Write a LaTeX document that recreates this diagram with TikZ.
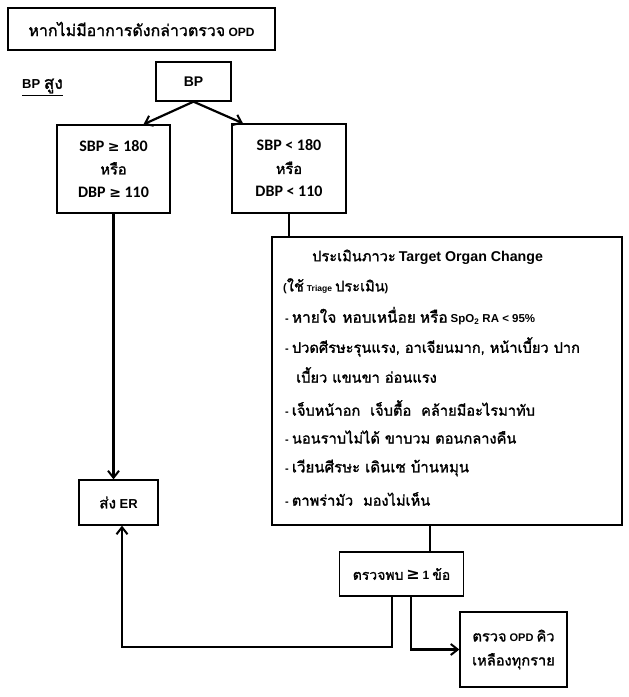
\documentclass[tikz,border=0pt]{standalone}
\usepackage{fontspec}
\usetikzlibrary{arrows.meta}
\setmainfont{Liberation Sans}
\newfontfamily\thaifont[Script=Thai, Scale=1.33, AutoFakeBold=1.5]{Loma}
\newfontfamily\calfont{Carlito}
\newfontfamily\symfont{DejaVu Sans}
\newcommand\tf[1]{{\thaifont #1}}
\newcommand\fs[1]{\fontsize{#1}{#1}\selectfont}
\begin{document}
\begin{tikzpicture}[x=1pt,y=-1pt,
  box/.style={draw, line width=1.3pt, inner sep=0pt, align=center, font=\bfseries\fontsize{11.5}{14}\selectfont},
  sbpbox/.style={box, font=\calfont\bfseries\fontsize{16}{23}\selectfont},
  txt/.style={anchor=west, inner sep=0pt, font=\bfseries\fontsize{11}{13}\selectfont},
  conn/.style={line width=2.2pt},
  arr/.style={conn, -{Straight Barb[length=7pt,width=11pt,line width=2pt]}}]
\useasboundingbox (0,0) rectangle (629,697);
\fill[white] (0,0) rectangle (629,697);

\node[box, minimum width=267pt, minimum height=42pt, font=\bfseries\fs{12}] (top) at (141.5,29) {\tf{หากไม่มีอาการดังกล่าวตรวจ} OPD};
\node[txt, font=\bfseries\fs{13}] (bpsung) at (22,87) {\underline{BP \tf{สูง}}};
\node[box, minimum width=75pt, minimum height=39pt, font=\bfseries\fs{14}] (bp) at (193.5,81.5) {BP};

\node[sbpbox, minimum width=113pt, minimum height=88pt] (left) at (113.5,169) {SBP {\symfont\fs{14}≥} 180\\{\fs{11}\tf{หรือ}}\\DBP {\symfont\fs{14}≥} 110};
\node[sbpbox, minimum width=114pt, minimum height=89pt] (right) at (289,168.5) {SBP < 180\\{\fs{11}\tf{หรือ}}\\DBP < 110};

\node[box, minimum width=350pt, minimum height=288pt] (big) at (447,381) {};
\node[txt] (l1) at (312,257) {\tf{ประเมินภาวะ} {\fs{14.2}Target Organ Change}};
\node[txt] (l2) at (283,286) {(\tf{ใช้} {\fs{8.5}Triage} \tf{ประเมิน})};
\node[txt] (l3) at (285,316) {- {\fs{11.6}\tf{หายใจ}\hspace{6pt}\tf{หอบเหนื่อย}\hspace{4pt}\tf{หรือ}} {\fs{11.5}SpO\textsubscript{2} RA < 95\%}};
\node[txt] (l4) at (285,347) {- \tf{ปวดศีรษะรุนแรง, อาเจียนมาก, หน้าเบี้ยว ปาก}};
\node[txt] (l5) at (296,375) {\tf{เบี้ยว แขนขา อ่อนแรง}};
\node[txt] (l6) at (285,408) {- \tf{เจ็บหน้าอก\ \ เจ็บตื้อ\ \ คล้ายมีอะไรมาทับ}};
\node[txt] (l7) at (285,437) {- \tf{นอนราบไม่ได้ ขาบวม ตอนกลางคืน}};
\node[txt] (l8) at (285,468) {- {\fs{11.3}\tf{เวียนศีรษะ เดินเซ บ้านหมุน}}};
\node[txt] (l9) at (285,499) {- \tf{ตาพร่ามัว\ \ มองไม่เห็น}};

\node[box, minimum width=79pt, minimum height=45pt, font=\bfseries\fs{13}] (er) at (118.5,502.5) {{\fs{11.5}\tf{ส่ง}} ER};
\node[box, minimum width=124pt, minimum height=44pt, font=\bfseries\fs{10.5}] (found) at (401.5,574) {\tf{ตรวจพบ} {\symfont\fs{16}≥} {\fs{12}1} \tf{ข้อ}};
\node[box, minimum width=107pt, minimum height=75pt, font=\bfseries\fontsize{11}{24}\selectfont] (opd) at (513.5,649.5) {\tf{ตรวจ} OPD \tf{คิว}\\\tf{เหลืองทุกราย}};

\draw[arr] (bp.south) -- ([xshift=30pt]left.north);
\draw[arr] (bp.south) -- ([xshift=-46pt]right.north);
\draw[arr] (left.south) -- (left.south |- er.north);
\draw[conn] (right.south) -- (right.south |- big.north);
\draw[conn] ([xshift=28.5pt]found.north |- big.south) -- ([xshift=28.5pt]found.north);
\coordinate (j) at (122,647);
\draw[arr] ([xshift=-9.5pt]found.south) |- (j) -- (j |- er.south);
\draw[arr] ([xshift=9.5pt]found.south) |- (opd.west);
\end{tikzpicture}
\end{document}
